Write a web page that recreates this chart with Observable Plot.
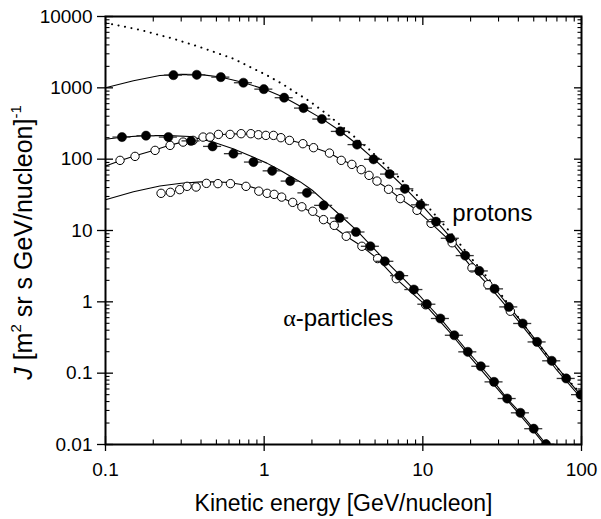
<!DOCTYPE html>
<html><head><meta charset="utf-8">
<script src="https://cdn.jsdelivr.net/npm/d3@7"></script>
<script src="https://cdn.jsdelivr.net/npm/@observablehq/plot@0.6"></script>
<style>
  html, body { margin: 0; padding: 0; background: #fff; }
  svg { display: block; }
</style>
</head>
<body>
<div id="chart"></div>
<script>
// ---- Data ----
const xTickValues = [0.1, 1, 10, 100];
const yTickValues = [0.01, 0.1, 1, 10, 100, 1000, 10000];
const minorSteps = [2, 3, 4, 5, 6, 7, 8, 9];

// Protons, filled circles
const protonFilledE = [0.268,0.376,0.533,0.740,0.995,1.337,1.77,2.31,3.02,3.85,4.89,6.17,7.70,9.67,12.1,14.9,18.5,22.7,28.3,34.8,42.6,52.5,64.9,80.1,98.6];
const protonFilledJ = [1506,1524,1413,1179,959,727,520,365,245,160,99.4,61.8,38.4,22.9,13.3,7.78,4.45,2.71,1.52,0.849,0.497,0.274,0.149,0.0843,0.050];

// Protons, open circles
const protonOpenE = [0.1235,0.1535,0.2053,0.2553,0.3083,0.3565,0.412,0.456,0.515,0.610,0.716,0.824,0.920,1.025,1.145,1.275,1.444,1.754,2.047,2.58,3.06,3.57,4.09,4.58,5.14,6.08,7.21,9.19,11.27,15.3,20.4,25.7,35.6];
const protonOpenJ = [96.2,109.4,132.8,156,173.6,183.4,204,204,222.4,222.4,227.6,227.6,220,215.4,215.4,200,183.4,164.8,144.9,121.7,96.2,84.5,71.3,59.3,49.3,37.8,28.0,19.2,12.6,6.73,2.99,1.74,0.738];

// Alpha particles, filled circles
const alphaFilledE = [0.127,0.180,0.249,0.346,0.473,0.640,0.856,1.123,1.459,1.86,2.37,2.99,3.79,4.67,5.76,7.14,8.78,10.6,12.9,15.8,19.2,23.2,28.1,34.0,41.2,50.0,59.7];
const alphaFilledJ = [204,213.5,204,180.4,151,119.4,91.1,68.6,49.3,33.7,22.5,14.96,9.53,6.01,3.70,2.33,1.487,0.926,0.584,0.340,0.199,0.125,0.0755,0.0441,0.0278,0.01665,0.0101];

// Alpha particles, open circles
const alphaOpenE = [0.224,0.2564,0.2935,0.3268,0.3724,0.4325,0.511,0.613,0.768,0.925,1.044,1.156,1.289,1.513,1.728,2.023,2.366,2.765,3.29,4.13,5.19,6.80,10.4];
const alphaOpenJ = [33.2,34.3,37.4,41.6,40.7,45.8,45.4,45.4,41.6,35.6,33.2,32.1,29.4,24.8,21.5,18.6,14.2,11.8,8.30,6.01,4.04,2.11,0.91];

// Model curves
const protonFilledFitE = [0.1,0.15,0.22,0.3,0.4,0.53,0.74,1,1.34,1.77,2.31,3,3.85,4.9,6.2,7.7,9.7,12.1,14.9,18.5,22.7,28.3,34.8,42.6,52.5,65,80,100];
const protonFilledFitJ = [1000,1260,1490,1545,1530,1420,1190,960,730,520,370,250,162,101,63,39.5,23.5,13.6,8.1,4.6,2.75,1.55,0.87,0.5,0.275,0.15,0.085,0.048];

const protonOpenFitE = [0.1,0.1235,0.15,0.2,0.25,0.3,0.4,0.5,0.6,0.7,0.82,1,1.3,1.75,2.05,2.6,3.06,3.6,4.1,4.6,5.1,6.1,7.2,9.2,11.3,15.3,20.4,25.7,35.6,50,70,100];
const protonOpenFitJ = [80,95,110,132,155,172,200,218,225,227,225,214,196,166,146,121,98,84,71,59.5,49.5,38,28,19.2,12.6,6.7,3.0,1.74,0.74,0.29,0.11,0.044];

const alphaFilledFitE = [0.1,0.13,0.18,0.25,0.34,0.476,0.637,0.85,1.04,1.26,1.69,2.0,2.37,3,3.8,4.67,5.76,7.14,8.8,10.6,12.9,15.8,19.2,23.2,28.1,34,41.2,50,60,70];
const alphaFilledFitJ = [190,205,214,214,208,174,140,107,88,70,48,37,26.5,16.5,10.2,6.3,3.85,2.38,1.5,0.94,0.585,0.34,0.2,0.125,0.0755,0.044,0.0278,0.0166,0.0100,0.0068];

const alphaOpenFitE = [0.1,0.15,0.22,0.3,0.4,0.5,0.6,0.75,0.92,1.04,1.3,1.73,2.37,3.29,4.13,5.19,6.8,10.4,15,20,30,40,50,60,70];
const alphaOpenFitJ = [27,35,42,46,48,48,47,43.5,38,34,28.5,21.5,14.2,8.3,6.0,4.0,2.1,0.9,0.36,0.165,0.058,0.0275,0.0154,0.0093,0.0062];

// Dotted curve (protons, upper)
const lisE = [0.1,0.1067,0.165,0.268,0.395,0.64,1.04,1.29,1.46,1.95,2.55,3.32,4.55,5.94,7.39,10,15,20,30,50,70,100];
const lisJ = [8100,7900,6500,4870,3720,2560,1500,1150,960,640,410,253,140,79,50.5,26,9.3,4.2,1.42,0.31,0.12,0.05];

const xLabel = "Kinetic energy [GeV/nucleon]";
const yLabel = "J [m² sr s GeV/nucleon]⁻¹";
const protonLabel = "protons";
const alphaLabel = "α-particles";

// ---- Build tables ----
const zip = (E, J) => E.map((e, i) => ({E: e, J: J[i]}));
const protonFilled = zip(protonFilledE, protonFilledJ);
const protonOpen = zip(protonOpenE, protonOpenJ);
const alphaFilled = zip(alphaFilledE, alphaFilledJ);
const alphaOpen = zip(alphaOpenE, alphaOpenJ);
const fits = [
  zip(protonFilledFitE, protonFilledFitJ),
  zip(protonOpenFitE, protonOpenFitJ),
  zip(alphaFilledFitE, alphaFilledFitJ),
  zip(alphaOpenFitE, alphaOpenFitJ)
];
const lis = zip(lisE, lisJ);
const filledAll = protonFilled.concat(alphaFilled);

const xMinor = xTickValues.slice(0, -1).flatMap(d => minorSteps.map(m => +(d * m).toPrecision(3)));
const yMinor = yTickValues.slice(0, -1).flatMap(d => minorSteps.map(m => +(d * m).toPrecision(3)));

const barFactor = 1.14;
const font = "'Liberation Sans', Arial, Helvetica, sans-serif";

const chart = Plot.plot({
  width: 601,
  height: 519,
  marginLeft: 105,
  marginRight: 20,
  marginTop: 16,
  marginBottom: 75,
  style: {fontFamily: font, color: "black", background: "white", overflow: "visible"},
  x: {type: "log", domain: [0.1, 100], axis: null},
  y: {type: "log", domain: [0.01, 10000], axis: null},
  marks: [
    // model curves
    ...fits.map(f => Plot.line(f, {x: "E", y: "J", stroke: "black", strokeWidth: 1.1, clip: true})),
    Plot.line(lis, {x: "E", y: "J", stroke: "black", strokeWidth: 2, strokeDasharray: "0.1,6.5", strokeLinecap: "round", clip: true}),
    // open circles
    Plot.dot(protonOpen, {x: "E", y: "J", r: 4.2, fill: "white", stroke: "black", strokeWidth: 1}),
    Plot.dot(alphaOpen, {x: "E", y: "J", r: 4.2, fill: "white", stroke: "black", strokeWidth: 1}),
    // horizontal bars on filled points
    Plot.ruleY(filledAll, {y: "J", x1: d => d.E / barFactor, x2: d => d.E * barFactor, stroke: "#333", strokeWidth: 1.3, clip: true}),
    // filled circles
    Plot.dot(filledAll, {x: "E", y: "J", r: 4.6, fill: "black", stroke: "black", strokeWidth: 0.5, clip: true}),
    // axes: bottom
    Plot.axisX({anchor: "bottom", ticks: xTickValues, tickFormat: d => String(d), tickSize: 7, tickPadding: 11, fontSize: 19, label: null, strokeWidth: 1.3}),
    Plot.axisX({anchor: "bottom", ticks: xTickValues, tickSize: -8, text: null, label: null, strokeWidth: 1.3}),
    Plot.axisX({anchor: "bottom", ticks: xMinor, tickSize: -4.5, text: null, label: null, strokeWidth: 1.1}),
    // top
    Plot.axisX({anchor: "top", ticks: xTickValues, tickSize: -8, text: null, label: null, strokeWidth: 1.3}),
    Plot.axisX({anchor: "top", ticks: xMinor, tickSize: -4.5, text: null, label: null, strokeWidth: 1.1}),
    // left
    Plot.axisY({anchor: "left", ticks: yTickValues, tickFormat: d => String(d), tickSize: 8, tickPadding: 5, fontSize: 19, label: null, strokeWidth: 1.3}),
    Plot.axisY({anchor: "left", ticks: yTickValues, tickSize: -8, text: null, label: null, strokeWidth: 1.3}),
    Plot.axisY({anchor: "left", ticks: yMinor, tickSize: -4.5, text: null, label: null, strokeWidth: 1.1}),
    // right
    Plot.axisY({anchor: "right", ticks: yTickValues, tickSize: -8, text: null, label: null, strokeWidth: 1.3}),
    Plot.axisY({anchor: "right", ticks: yMinor, tickSize: -4.5, text: null, label: null, strokeWidth: 1.1}),
    Plot.frame({stroke: "black", strokeWidth: 2}),
    // axis titles
    Plot.text([xLabel], {frameAnchor: "bottom", textAnchor: "middle", lineAnchor: "middle", dy: 59, fontSize: 23, fill: "black"}),
    Plot.text([yLabel], {frameAnchor: "left", textAnchor: "middle", lineAnchor: "middle", rotate: -90, dx: -82, dy: 12, fontSize: 25, fill: "black"}),
    // curve labels
    Plot.text([protonLabel], {x: () => 15.35, y: () => 17.4, textAnchor: "start", fontSize: 24, fill: "black"}),
    Plot.text([alphaLabel], {x: () => 1.318, y: () => 0.589, textAnchor: "start", fontSize: 24, fill: "black"})
  ]
});

document.getElementById("chart").appendChild(chart);

// Rich text: italic J, superscripts, serif alpha
const svgSel = d3.select(chart);
svgSel.selectAll("text").filter(function () { return this.textContent === yLabel; }).each(function () {
  const t = d3.select(this);
  t.text(null);
  t.append("tspan").attr("font-style", "italic").text("J");
  t.append("tspan").text(" [m");
  t.append("tspan").attr("dy", -11).attr("font-size", 15).text("2");
  t.append("tspan").attr("dy", 11).text(" sr s GeV/nucleon]");
  t.append("tspan").attr("dy", -11).attr("font-size", 15).text("-1");
});
svgSel.selectAll("text").filter(function () { return this.textContent === alphaLabel; }).each(function () {
  const t = d3.select(this);
  t.text(null);
  t.append("tspan").attr("font-family", "'Liberation Serif', 'Times New Roman', serif").text("α");
  t.append("tspan").text("-particles");
});
</script>
</body></html>
